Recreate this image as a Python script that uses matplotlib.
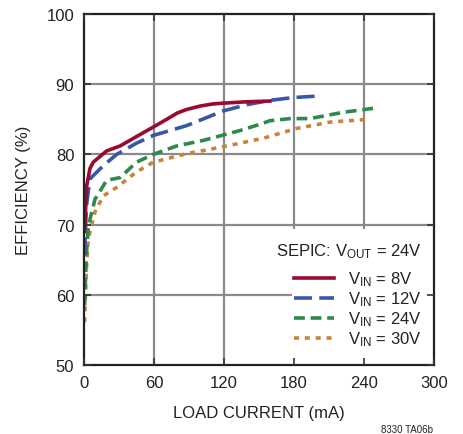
import matplotlib
matplotlib.use("Agg")
import matplotlib.pyplot as plt
from matplotlib import font_manager
from matplotlib.patches import Rectangle

fams = {f.name for f in font_manager.fontManager.ttflist}
font = 'Liberation Sans Narrow' if 'Liberation Sans Narrow' in fams else 'Liberation Sans'
plt.rcParams['font.family'] = [font, 'DejaVu Sans']
plt.rcParams['mathtext.fontset'] = 'custom'
plt.rcParams['mathtext.rm'] = font
plt.rcParams['mathtext.it'] = font

# load current (mA) and efficiency (%) per input voltage
i_8v = [0.5, 2.3, 5.1, 8, 19.4, 30.9, 50.9, 59.4, 70.9, 80, 88, 100, 110.9, 119.4, 140, 159.4]
e_8v = [69.0, 75.5, 78.0, 78.9, 80.5, 81.2, 83.1, 83.9, 85.0, 85.9, 86.4, 86.9, 87.2, 87.3, 87.5, 87.6]

i_12v = [0.5, 2.0, 5, 16.6, 28, 45, 59.4, 88, 119.4, 140, 159.4, 179.4, 199.4]
e_12v = [65.6, 72.5, 76.5, 78.4, 80.0, 81.6, 82.7, 84.1, 86.2, 87.1, 87.7, 88.1, 88.3]

i_24v = [0.5, 2.0, 3.7, 9.4, 19.4, 30.9, 45.1, 59.4, 79.4, 102.3, 133.7, 150.9, 159.4, 176.6, 193.7, 222.3, 249.4]
e_24v = [58.5, 65.5, 69.8, 73.6, 76.3, 76.7, 78.9, 80.0, 81.2, 82.0, 83.4, 84.3, 84.8, 85.1, 85.1, 86.0, 86.6]

i_30v = [0.5, 2.0, 3.7, 9.4, 16.6, 28, 45, 59.4, 88, 116.6, 153.7, 182.3, 210.9, 243.7]
e_30v = [56.1, 63.5, 68.0, 71.8, 74.1, 75.3, 77.5, 78.9, 80.1, 81.0, 82.3, 83.7, 84.6, 85.0]

labels = [r'V$_{\mathrm{IN}}$ = 8V', r'V$_{\mathrm{IN}}$ = 12V',
          r'V$_{\mathrm{IN}}$ = 24V', r'V$_{\mathrm{IN}}$ = 30V']
x_ticks = [0, 60, 120, 180, 240, 300]
y_ticks = [50, 60, 70, 80, 90, 100]

fig = plt.figure(figsize=(4.64, 4.35), dpi=100)
ax = fig.add_axes([84/464, 1-366/435, 350/464, 351/435])

txt = '#222222'
for x in x_ticks[1:-1]:
    ax.axvline(x, color='#8a8a8a', lw=1.6, zorder=1)
for y in y_ticks[1:-1]:
    ax.axhline(y, color='#8a8a8a', lw=1.6, zorder=1)

ax.plot(i_8v, e_8v, color='#9a0a2e', lw=2.6, label=labels[0], zorder=2.2)
ax.plot(i_12v, e_12v, color='#3a56a8', lw=2.6, dashes=(5, 2), label=labels[1], zorder=2.1)
ax.plot(i_24v, e_24v, color='#2e8a4c', lw=2.6, dashes=(3, 1.6), label=labels[2], zorder=2.0)
ax.plot(i_30v, e_30v, color='#c8843c', lw=2.6, dashes=(1.4, 1.6), label=labels[3], zorder=1.9)

# white panel behind the legend hides the grid there
ax.add_patch(Rectangle((0.594, 0), 0.406, 0.387, transform=ax.transAxes,
                       facecolor='white', edgecolor='none', zorder=3))

ax.set_xlim(0, 300)
ax.set_ylim(50, 100)
ax.set_xticks(x_ticks)
ax.set_yticks(y_ticks)
ax.tick_params(direction='in', length=5, width=1.2, top=True, right=True,
               labelsize=12, colors='#333333', labelcolor=txt, pad=7)
ax.xaxis.set_zorder(4)
ax.yaxis.set_zorder(4)
for s in ax.spines.values():
    s.set_linewidth(1.6)
    s.set_color('#222222')
    s.set_zorder(4)

ax.set_xlabel('LOAD CURRENT (mA)', fontsize=12, color=txt, labelpad=11)
ax.set_ylabel('EFFICIENCY (%)', fontsize=12, color=txt, labelpad=11)

leg = ax.legend(loc='lower right', bbox_to_anchor=(1.0, 0.012),
                title=r'SEPIC: V$_{\mathrm{OUT}}$ = 24V',
                fontsize=12, title_fontsize=12, frameon=False,
                borderaxespad=0.0, borderpad=0.75, handlelength=2.4,
                handletextpad=0.8, labelspacing=0.08, alignment='right')
leg._legend_box.sep = 7
leg.set_zorder(5)
for t in leg.get_texts():
    t.set_color(txt)
leg.get_title().set_color(txt)

fig.text(0.933, 0.0, '8330 TA06b', fontsize=7, color=txt, ha='right', va='bottom')

fig.savefig('out.png', dpi=100)
